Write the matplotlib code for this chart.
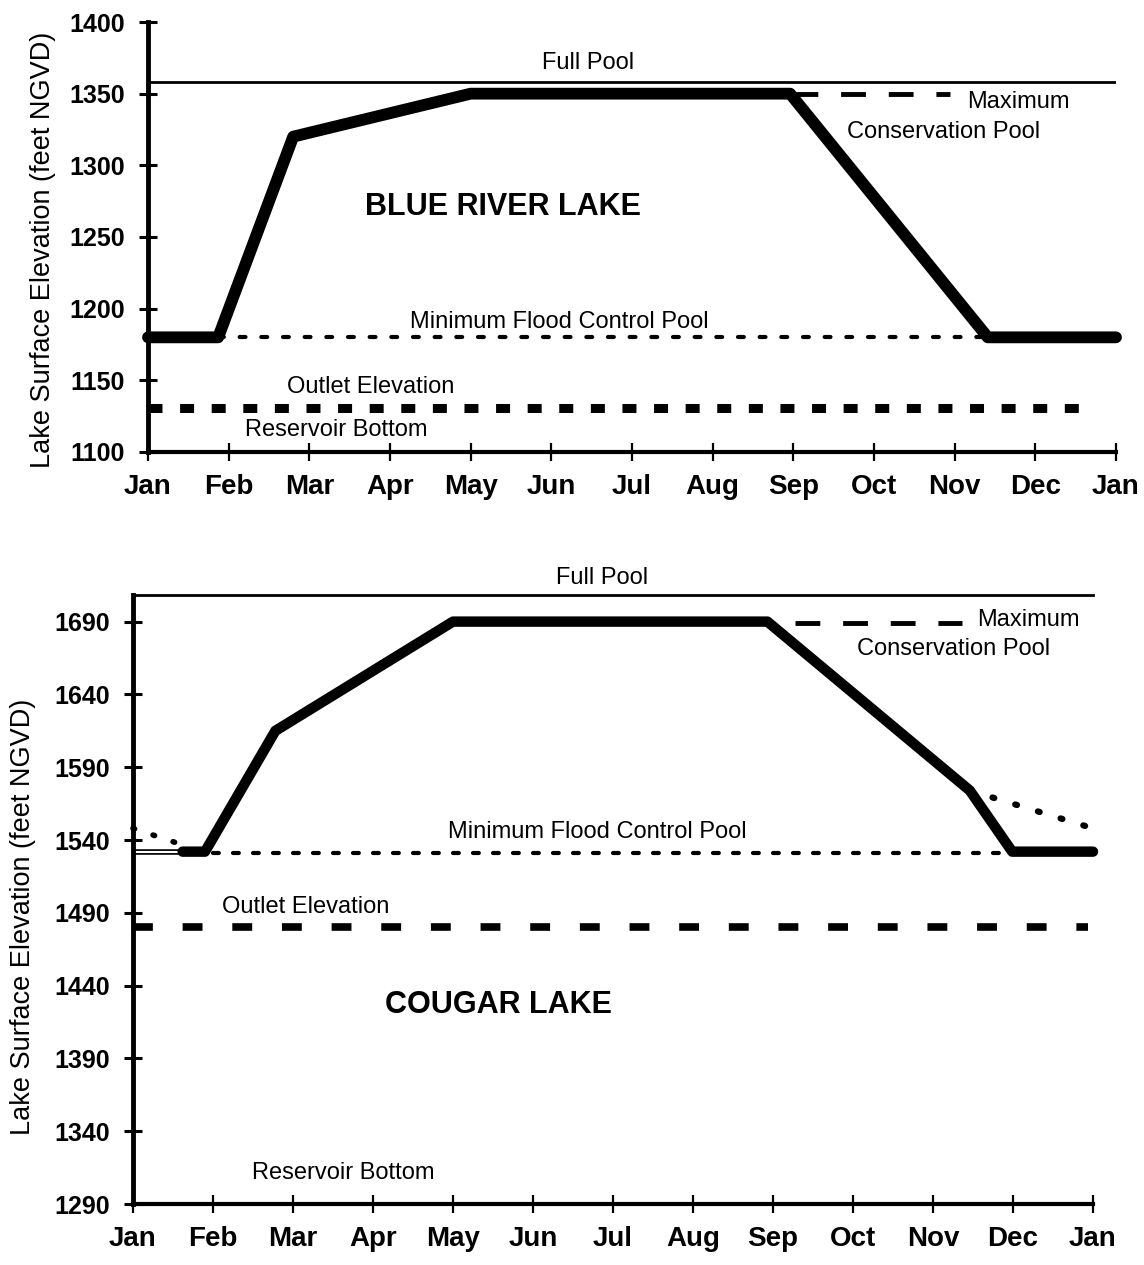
import numpy as np
import matplotlib
matplotlib.use("Agg")
import matplotlib.pyplot as plt

plt.rcParams['font.family'] = ['Liberation Sans', 'DejaVu Sans']

# %% data
months = ['Jan', 'Feb', 'Mar', 'Apr', 'May', 'Jun', 'Jul', 'Aug', 'Sep',
          'Oct', 'Nov', 'Dec', 'Jan']
month_pos = np.arange(len(months))

# Blue River Lake (feet NGVD), x in months from Jan 1
blue_yticks = [1100, 1150, 1200, 1250, 1300, 1350, 1400]
blue_rule_x = [0, 0.87, 1.80, 4.0, 7.96, 10.41, 12]
blue_rule_y = [1180, 1180, 1320, 1350, 1350, 1180, 1180]
blue_full_pool = 1358
blue_maxcons_x = [8.0, 9.94]
blue_maxcons_y = [1350, 1350]
blue_minflood_x = [0.87, 10.41]
blue_minflood_y = [1180, 1180]
blue_outlet_x = [0, 11.73]
blue_outlet_y = [1131, 1131]

# Cougar Lake (feet NGVD)
cougar_yticks = [1290, 1340, 1390, 1440, 1490, 1540, 1590, 1640, 1690]
cougar_rule_x = [0.62, 0.9, 1.78, 4.0, 7.93, 10.46, 10.99, 12]
cougar_rule_y = [1532, 1532, 1615, 1690, 1690, 1574, 1532, 1532]
cougar_lead_x = [0, 0.62]
cougar_lead_y = [1532, 1532]
cougar_alt_end_x = [10.46, 11.94]
cougar_alt_end_y = [1574, 1549]
cougar_alt_start_x = [0, 0.6]
cougar_alt_start_y = [1548, 1537]
cougar_full_pool = 1708
cougar_maxcons_x = [8.28, 10.36]
cougar_maxcons_y = [1689, 1689]
cougar_minflood_x = [1.0, 10.85]
cougar_minflood_y = [1531, 1531]
cougar_outlet_x = [0, 11.94]
cougar_outlet_y = [1480, 1480]

W, H = 1144, 1265
fig = plt.figure(figsize=(W / 100, H / 100), dpi=100)

lab = dict(fontsize=17, va='center', ha='left', clip_on=False)


def style_axes(ax, yticks, ylim):
    ax.set_xlim(0, 12)
    ax.set_ylim(*ylim)
    ax.spines['top'].set_visible(False)
    ax.spines['right'].set_visible(False)
    ax.spines['left'].set_linewidth(3.5)
    ax.spines['bottom'].set_linewidth(3)
    ax.set_xticks(month_pos)
    ax.set_xticklabels(months)
    ax.set_yticks(yticks)
    ax.tick_params(axis='y', direction='inout', length=13, width=2.2,
                   pad=10, labelsize=18)
    ax.tick_params(axis='x', direction='inout', length=13, width=1.6,
                   pad=9, labelsize=20)
    for t in ax.get_xticklabels() + ax.get_yticklabels():
        t.set_fontweight('bold')


# %% top panel: Blue River Lake
ax1 = fig.add_axes([148 / W, 1 - 452 / H, 968 / W, 430 / H])
style_axes(ax1, blue_yticks, (1100, 1400))
ax1.axhline(blue_full_pool, color='k', lw=2)
ax1.plot(blue_rule_x, blue_rule_y, color='k', lw=8.5,
         solid_capstyle='round', solid_joinstyle='round', clip_on=False, zorder=5)
ax1.plot(blue_maxcons_x, blue_maxcons_y, color='k', lw=3.5,
         dashes=(5.1, 4.7), dash_capstyle='butt')
ax1.plot(blue_minflood_x, blue_minflood_y, color='k', lw=3,
         dashes=(1.4, 3.8), dash_capstyle='round')
ax1.plot(blue_outlet_x, blue_outlet_y, color='k', lw=6.5,
         dashes=(1.55, 1.95), dash_capstyle='butt', clip_on=False)

ax1.text(4.88, 1371.4, 'Full Pool', **lab)
ax1.text(10.15, 1344.2, 'Maximum', **lab)
ax1.text(8.66, 1323.3, 'Conservation Pool', **lab)
ax1.text(2.69, 1270.9, 'BLUE RIVER LAKE', fontsize=22, fontweight='bold',
         va='center', ha='left')
ax1.text(3.25, 1190.7, 'Minimum Flood Control Pool', **lab)
ax1.text(1.72, 1145.3, 'Outlet Elevation', **lab)
ax1.text(1.20, 1115.3, 'Reservoir Bottom', **lab)

fig.text(43 / W, 1 - 250 / H, 'Lake Surface Elevation (feet NGVD)',
         rotation=90, ha='center', va='center', fontsize=19.5)

# %% bottom panel: Cougar Lake
ax2 = fig.add_axes([133 / W, 1 - 1204 / H, 960 / W, (1204 - 595.4) / H])
style_axes(ax2, cougar_yticks, (1290, cougar_full_pool))
ax2.axhline(cougar_full_pool, color='k', lw=2, clip_on=False)
ax2.plot(cougar_lead_x, cougar_lead_y, color='k', lw=4, solid_capstyle='butt')
ax2.plot(cougar_lead_x, cougar_lead_y, color='w', lw=1.5, solid_capstyle='butt')
ax2.plot(cougar_rule_x, cougar_rule_y, color='k', lw=7.5,
         solid_capstyle='round', solid_joinstyle='round', clip_on=False, zorder=5)
ax2.plot(cougar_alt_end_x, cougar_alt_end_y, color='k', lw=4.5,
         dashes=(0.3, 3.5), dash_capstyle='round')
ax2.plot(cougar_alt_start_x, cougar_alt_start_y, color='k', lw=4,
         dashes=(0.3, 3.5), dash_capstyle='round', clip_on=False)
ax2.plot(cougar_maxcons_x, cougar_maxcons_y, color='k', lw=3.5,
         dashes=(5.1, 4.7), dash_capstyle='butt')
ax2.plot(cougar_minflood_x, cougar_minflood_y, color='k', lw=3,
         dashes=(1.4, 3.4), dash_capstyle='round')
ax2.plot(cougar_outlet_x, cougar_outlet_y, color='k', lw=5.5,
         dashes=(2.6, 3.9), dash_capstyle='butt', clip_on=False)

ax2.text(5.29, 1720, 'Full Pool', **lab)
ax2.text(10.55, 1691, 'Maximum', **lab)
ax2.text(9.05, 1671.2, 'Conservation Pool', **lab)
ax2.text(3.15, 1426.7, 'COUGAR LAKE', fontsize=22, fontweight='bold',
         va='center', ha='left')
ax2.text(3.94, 1545.5, 'Minimum Flood Control Pool', **lab)
ax2.text(1.11, 1494, 'Outlet Elevation', **lab)
ax2.text(1.49, 1311.3, 'Reservoir Bottom', **lab)

fig.text(23 / W, 1 - 917 / H, 'Lake Surface Elevation (feet NGVD)',
         rotation=90, ha='center', va='center', fontsize=19.5)

fig.savefig('out.png', dpi=100)
